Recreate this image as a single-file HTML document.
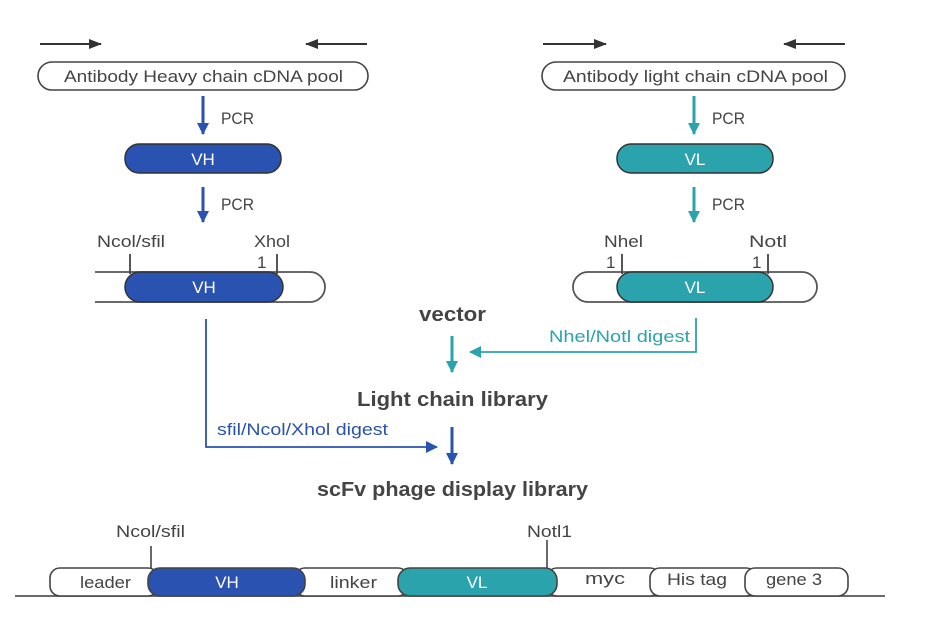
<!DOCTYPE html>
<html><head><style>body{margin:0;background:#fff}svg{display:block}text{font-family:"Liberation Sans",sans-serif}</style></head>
<body>
<svg width="940" height="624" viewBox="0 0 940 624" xmlns="http://www.w3.org/2000/svg">
<defs>
<marker id="ak" markerWidth="14" markerHeight="14" refX="12" refY="7" orient="auto" markerUnits="userSpaceOnUse"><path d="M0,2 L13,7 L0,12 Z" fill="#333"/></marker>
<marker id="ab" markerWidth="14" markerHeight="14" refX="11" refY="7" orient="auto" markerUnits="userSpaceOnUse"><path d="M0,1 L12,7 L0,13 Z" fill="#2a52b0"/></marker>
<marker id="at" markerWidth="14" markerHeight="14" refX="11" refY="7" orient="auto" markerUnits="userSpaceOnUse"><path d="M0,1 L12,7 L0,13 Z" fill="#2ba3ad"/></marker>
</defs>
<g stroke="#333" stroke-width="2">
<line x1="40" y1="44" x2="101" y2="44" marker-end="url(#ak)"/>
<line x1="367" y1="44" x2="306" y2="44" marker-end="url(#ak)"/>
<line x1="543" y1="44" x2="606" y2="44" marker-end="url(#ak)"/>
<line x1="845" y1="44" x2="784" y2="44" marker-end="url(#ak)"/>
</g>
<g fill="#fff" stroke="#444" stroke-width="1.6">
<rect x="38" y="62" width="330" height="28" rx="14"/>
<rect x="542" y="62" width="303" height="28" rx="14"/>
</g>
<g font-size="17" fill="#444">
<text x="64" y="82" textLength="279" lengthAdjust="spacingAndGlyphs">Antibody Heavy chain cDNA pool</text>
<text x="563" y="82" textLength="265" lengthAdjust="spacingAndGlyphs">Antibody light chain cDNA pool</text>
</g>
<g stroke-width="3">
<line x1="203" y1="96" x2="203" y2="134" stroke="#2a52b0" marker-end="url(#ab)"/>
<line x1="203" y1="187" x2="203" y2="222" stroke="#2a52b0" marker-end="url(#ab)"/>
<line x1="694" y1="96" x2="694" y2="134" stroke="#2ba3ad" marker-end="url(#at)"/>
<line x1="694" y1="187" x2="694" y2="222" stroke="#2ba3ad" marker-end="url(#at)"/>
</g>
<g font-size="17" fill="#444">
<text x="221" y="124" textLength="33" lengthAdjust="spacingAndGlyphs">PCR</text><text x="221" y="210" textLength="33" lengthAdjust="spacingAndGlyphs">PCR</text>
<text x="712" y="124" textLength="33" lengthAdjust="spacingAndGlyphs">PCR</text><text x="712" y="210" textLength="33" lengthAdjust="spacingAndGlyphs">PCR</text>
</g>
<rect x="125" y="144" width="156" height="29" rx="14" fill="#2a52b0" stroke="#333" stroke-width="1.5"/>
<rect x="617" y="144" width="156" height="29" rx="14" fill="#2ba3ad" stroke="#333" stroke-width="1.5"/>
<g font-size="17" fill="#fff" text-anchor="middle"><text x="203" y="165">VH</text><text x="695" y="165">VL</text></g>
<g stroke="#555" stroke-width="1.8" fill="none">
<path d="M95,272 H310 A15,15 0 0 1 310,302 H95"/>
<path d="M588,272 H802 A15,15 0 0 1 802,302 H588 A15,15 0 0 1 588,272"/>
</g>
<rect x="125" y="272" width="158" height="30" rx="15" fill="#2a52b0" stroke="#333" stroke-width="1.5"/>
<rect x="617" y="272" width="156" height="30" rx="15" fill="#2ba3ad" stroke="#333" stroke-width="1.5"/>
<g font-size="17" fill="#fff" text-anchor="middle"><text x="204" y="293">VH</text><text x="695" y="293">VL</text></g>
<g stroke="#444" stroke-width="1.8">
<line x1="130" y1="254" x2="130" y2="274"/><line x1="277" y1="254" x2="277" y2="274"/>
<line x1="622" y1="254" x2="622" y2="274"/><line x1="768" y1="254" x2="768" y2="274"/>
</g>
<g font-size="17" fill="#444">
<text x="97" y="247" textLength="68" lengthAdjust="spacingAndGlyphs">Ncol/sfil</text>
<text x="254" y="247" textLength="36" lengthAdjust="spacingAndGlyphs">Xhol</text><text x="257" y="268">1</text>
<text x="604" y="247" textLength="39" lengthAdjust="spacingAndGlyphs">Nhel</text><text x="606" y="268">1</text>
<text x="749" y="247" textLength="38" lengthAdjust="spacingAndGlyphs">Notl</text><text x="752" y="268">1</text>
</g>
<g font-size="20" font-weight="bold" fill="#444">
<text x="419" y="321" textLength="67" lengthAdjust="spacingAndGlyphs">vector</text>
<text x="357" y="406" textLength="191" lengthAdjust="spacingAndGlyphs">Light chain library</text>
<text x="317" y="496" textLength="271" lengthAdjust="spacingAndGlyphs">scFv phage display library</text>
</g>
<line x1="452" y1="336" x2="452" y2="372" stroke="#2ba3ad" stroke-width="3" marker-end="url(#at)"/>
<polyline points="696,318 696,352 470,352" fill="none" stroke="#2ba3ad" stroke-width="1.8" marker-end="url(#at)"/>
<text x="549" y="342" font-size="17" fill="#2ba3ad" textLength="141" lengthAdjust="spacingAndGlyphs">Nhel/Notl digest</text>
<polyline points="206,319 206,447 437,447" fill="none" stroke="#2a52b0" stroke-width="1.8" marker-end="url(#ab)"/>
<line x1="452" y1="427" x2="452" y2="464" stroke="#2a52b0" stroke-width="3" marker-end="url(#ab)"/>
<text x="217" y="435" font-size="17" fill="#2a52b0" textLength="171" lengthAdjust="spacingAndGlyphs">sfil/Ncol/Xhol digest</text>
<line x1="15" y1="596" x2="885" y2="596" stroke="#555" stroke-width="1.8"/>
<g stroke="#444" stroke-width="1.6">
<rect x="50" y="568" width="108" height="28" rx="10" fill="#fff"/>
<rect x="295" y="568" width="113" height="28" rx="10" fill="#fff"/>
<rect x="547" y="568" width="113" height="28" rx="10" fill="#fff"/>
<rect x="650" y="568" width="106" height="28" rx="10" fill="#fff"/>
<rect x="745" y="568" width="103" height="28" rx="10" fill="#fff"/>
<rect x="148" y="568" width="157" height="28" rx="12" fill="#2a52b0"/>
<rect x="398" y="568" width="159" height="28" rx="12" fill="#2ba3ad"/>
</g>
<g stroke="#444" stroke-width="1.6">
<line x1="151" y1="546" x2="151" y2="569"/><line x1="547" y1="540" x2="547" y2="569"/>
</g>
<g font-size="17" fill="#444">
<text x="116" y="537" textLength="69" lengthAdjust="spacingAndGlyphs">Ncol/sfil</text>
<text x="527" y="537" textLength="45" lengthAdjust="spacingAndGlyphs">Notl1</text>
<text x="80" y="588" textLength="51" lengthAdjust="spacingAndGlyphs">leader</text>
<text x="330" y="588" textLength="47" lengthAdjust="spacingAndGlyphs">linker</text>
<text x="585" y="584" textLength="40" lengthAdjust="spacingAndGlyphs">myc</text>
<text x="667" y="585" textLength="60" lengthAdjust="spacingAndGlyphs">His tag</text>
<text x="766" y="585" textLength="56" lengthAdjust="spacingAndGlyphs">gene 3</text>
</g>
<g font-size="17" fill="#fff" text-anchor="middle">
<text x="227" y="588">VH</text><text x="477" y="588">VL</text>
</g>
</svg>
</body></html>
